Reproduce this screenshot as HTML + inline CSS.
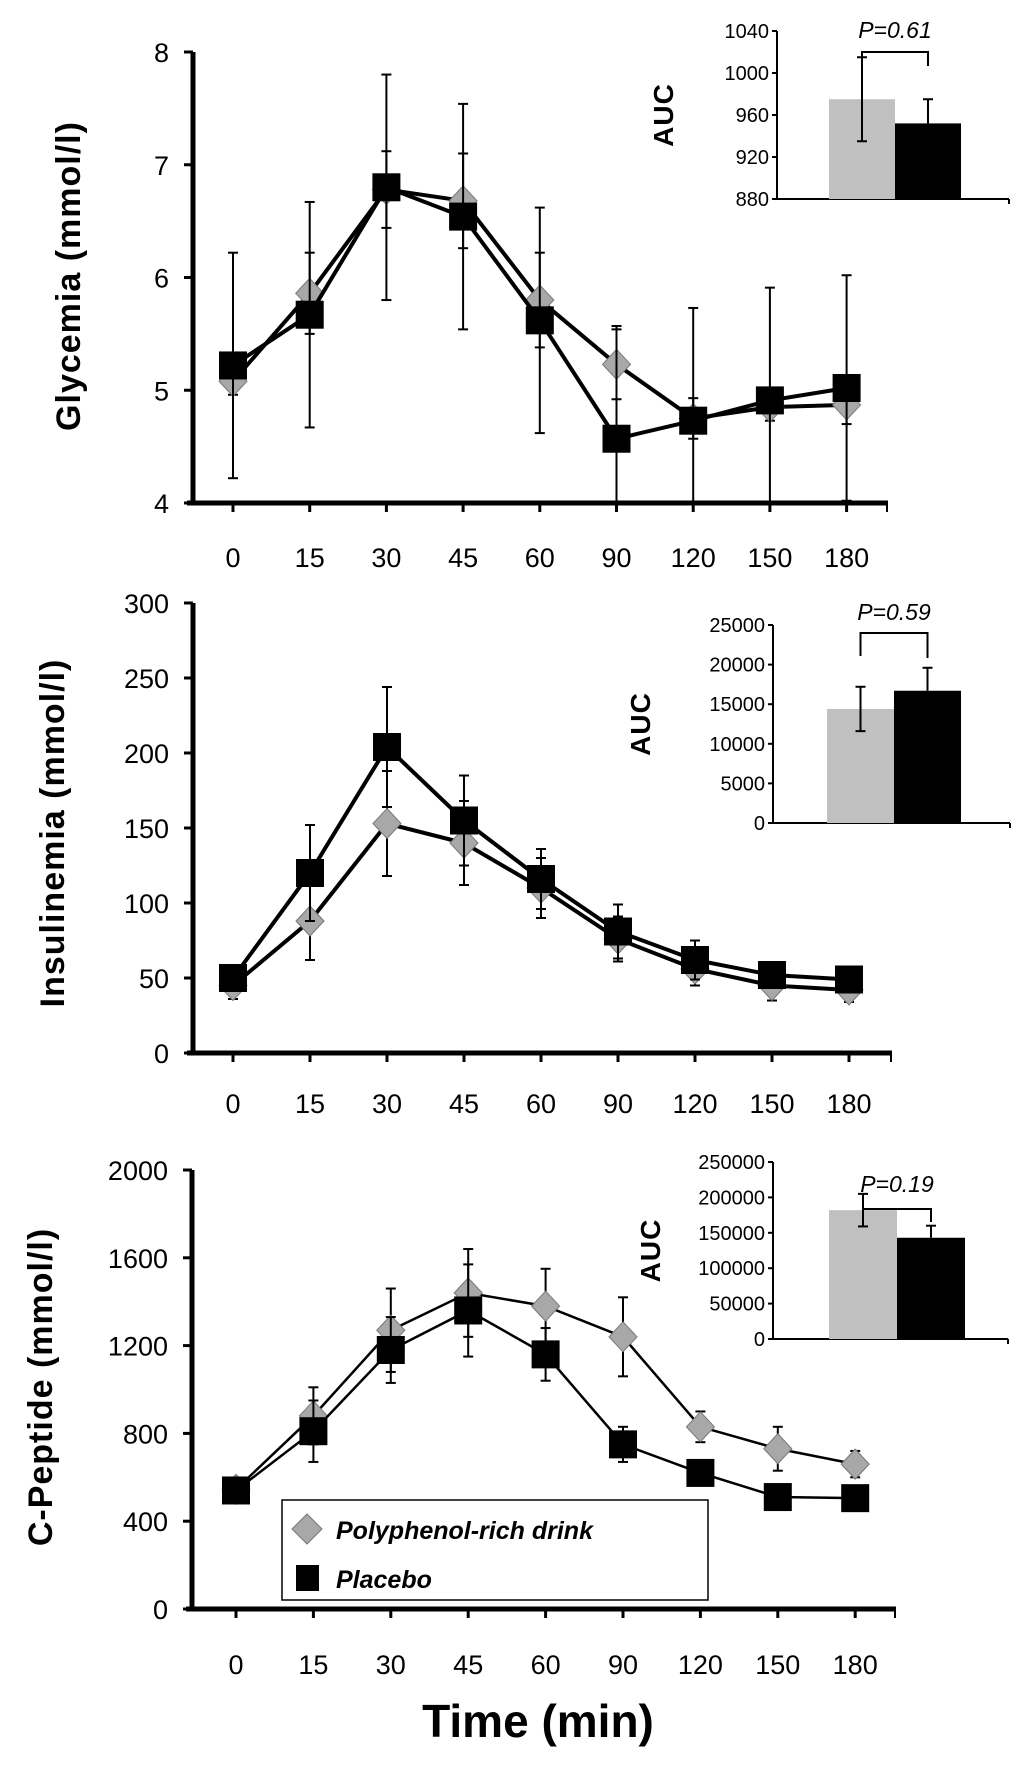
<!DOCTYPE html>
<html><head><meta charset="utf-8"><style>
html,body{margin:0;padding:0;background:#fff;}
svg{display:block;}
text{font-family:"Liberation Sans Narrow","Liberation Sans",sans-serif;fill:#000;}
.tk{font-size:27px;}
.itk{font-size:20px;}
.yt{font-family:"Liberation Sans",sans-serif;font-weight:bold;font-size:34px;letter-spacing:1px;}
</style></head><body>
<svg id="chart" width="1024" height="1767" viewBox="0 0 1024 1767"></svg>
<script>
const timeLabels=["0","15","30","45","60","90","120","150","180"];
const glyPoly=[5.08,5.86,6.78,6.68,5.8,5.23,4.75,4.85,4.87];
const glyPolyErr=[0.12,0.36,0.34,0.42,0.42,0.31,0.18,0.12,0.17];
const glyPlac=[5.22,5.67,6.8,6.54,5.62,4.57,4.73,4.91,5.02];
const glyPlacErr=[1.0,1.0,1.0,1.0,1.0,1.0,1.0,1.0,1.0];
const insPoly=[45,88,153,140,110,76,56,45,42];
const insPolyErr=[9,26,35,28,20,15,11,10,8];
const insPlac=[50,120,204,155,116,81,62,52,49];
const insPlacErr=[8,32,40,30,20,18,13,8,6];
const cpPoly=[545,880,1270,1440,1380,1240,830,730,660];
const cpPolyErr=[40,130,190,200,170,180,70,100,60];
const cpPlac=[540,810,1180,1360,1160,750,620,510,505];
const cpPlacErr=[40,140,150,210,120,80,40,45,45];
const aucGly=[975,952];const aucGlyErr=[40,23];
const aucIns=[14400,16700];const aucInsErr=[2800,2900];
const aucCp=[182000,143000];const aucCpErr=[23000,17000];
const glyTicks=[4,5,6,7,8];
const insTicks=[0,50,100,150,200,250,300];
const cpTicks=[0,400,800,1200,1600,2000];
const aucGlyTicks=[880,920,960,1000,1040];
const aucInsTicks=[0,5000,10000,15000,20000,25000];
const aucCpTicks=[0,50000,100000,150000,200000,250000];

const NS="http://www.w3.org/2000/svg";
const svg=document.getElementById('chart');
function mk(tag,attrs,parent,txt){const e=document.createElementNS(NS,tag);for(const k in attrs)e.setAttribute(k,attrs[k]);if(txt!==undefined)e.textContent=txt;(parent||svg).appendChild(e);return e;}

function panel(o){
  const g=mk('g',{});
  
  
  const ys=v=>o.y0+(v-o.ticks[0])/(o.ticks[o.ticks.length-1]-o.ticks[0])*(o.y1-o.y0);
  const xs=i=>o.xStart+i*o.xStep;
  const ya=mk('line',{x1:o.ax,y1:o.y1,x2:o.ax,y2:o.y0+2,stroke:'#000','stroke-width':5},g);
  
  const xa=mk('line',{x1:o.ax-6,y1:o.y0,x2:o.axEnd,y2:o.y0,stroke:'#000','stroke-width':5},g);
  
  mk('line',{x1:o.axEnd-1,y1:o.y0,x2:o.axEnd-1,y2:o.y0+9,stroke:'#000','stroke-width':2},g);
  o.ticks.forEach(t=>{const y=ys(t);
    mk('line',{x1:o.ax-9,y1:y,x2:o.ax,y2:y,stroke:'#000','stroke-width':3},g);
    const tl=mk('text',{x:o.ax-24,y:y+10,'text-anchor':'end',class:'tk'},g,String(t));
    
  });
  timeLabels.forEach((l,i)=>{const x=xs(i);
    mk('line',{x1:x,y1:o.y0,x2:x,y2:o.y0+9,stroke:'#000','stroke-width':3},g);
    const tl=mk('text',{x:x,y:o.labY,'text-anchor':'middle',class:'tk'},g,l);
    
  });
  const t=mk('text',{x:o.titleX,y:o.titleY,'text-anchor':'middle',class:'yt',transform:`rotate(-90 ${o.titleX} ${o.titleY})`},g,o.title);
  
  const clipY=o.y0;
  function series(vals,errs,kind){
    const sg=mk('g',{},g);
    
    
    vals.forEach((v,i)=>{const x=xs(i);const yt=ys(v+errs[i]);const yb=Math.min(ys(v-errs[i]),clipY);
      mk('line',{x1:x,y1:yt,x2:x,y2:yb,stroke:'#000','stroke-width':2},sg);
      mk('line',{x1:x-5,y1:yt,x2:x+5,y2:yt,stroke:'#000','stroke-width':2},sg);
      if(ys(v-errs[i])<clipY)mk('line',{x1:x-5,y1:yb,x2:x+5,y2:yb,stroke:'#000','stroke-width':2},sg);
    });
    mk('polyline',{points:vals.map((v,i)=>xs(i)+','+ys(v)).join(' '),fill:'none',stroke:'#000','stroke-width':o.lw},sg);
    return sg;
  }
  function markers(sg,vals,kind){
    vals.forEach((v,i)=>{const x=xs(i),y=ys(v);let m;
      if(kind==='sq'){m=mk('rect',{x:x-14,y:y-14,width:28,height:28,fill:'#000'},sg);}
      else{m=mk('polygon',{points:`${x},${y-15} ${x+14},${y} ${x},${y+15} ${x-14},${y}`,fill:'#a8a8a8',stroke:'#777','stroke-width':1},sg);}
      
      
    });
  }
  const s1=series(o.poly,o.polyErr,'dm');const s2=series(o.plac,o.placErr,'sq');
  markers(s1,o.poly,'dm');markers(s2,o.plac,'sq');
  const I=o.inset;const ig=mk('g',{},g);
  
  const iy=v=>I.y0+(v-I.ticks[0])/(I.ticks[I.ticks.length-1]-I.ticks[0])*(I.y1-I.y0);
  mk('line',{x1:I.ax,y1:I.y1,x2:I.ax,y2:I.y0,stroke:'#000','stroke-width':2},ig);
  mk('line',{x1:I.ax,y1:I.y0,x2:I.axEnd,y2:I.y0,stroke:'#000','stroke-width':2},ig);
  mk('line',{x1:I.axEnd,y1:I.y0,x2:I.axEnd,y2:I.y0+5,stroke:'#000','stroke-width':2},ig);
  I.ticks.forEach(tv=>{const y=iy(tv);
    mk('line',{x1:I.ax-5,y1:y,x2:I.ax,y2:y,stroke:'#000','stroke-width':2},ig);
    const tl=mk('text',{x:I.ax-8,y:y+7,'text-anchor':'end',class:'itk'},ig,String(tv));
    
  });
  const my=(I.y0+I.y1)/2;
  const at=mk('text',{x:I.titleX,y:my,'text-anchor':'middle',class:'yt',style:'font-size:28px',transform:`rotate(-90 ${I.titleX} ${my})`},ig,'AUC');
  
  const cols=['#c0c0c0','#000'];const centers=[];
  I.vals.forEach((v,i)=>{const x=I.barX+i*I.barW;const y=iy(v);
    const b=mk('rect',{x:x,y:y,width:I.barW,height:I.y0-y,fill:cols[i]},ig);
    
    const cx=x+I.barW/2;centers.push(cx);const ye=iy(v+I.errs[i]);
    mk('line',{x1:cx,y1:ye,x2:cx,y2:I.fullErr[i]?iy(v-I.errs[i]):y,stroke:'#000','stroke-width':2},ig);
    mk('line',{x1:cx-5,y1:ye,x2:cx+5,y2:ye,stroke:'#000','stroke-width':2},ig);
    if(I.fullErr[i]){const yl=iy(v-I.errs[i]);mk('line',{x1:cx-5,y1:yl,x2:cx+5,y2:yl,stroke:'#000','stroke-width':2},ig);}
  });
  mk('polyline',{points:`${centers[0]},${I.brL} ${centers[0]},${I.brY} ${centers[1]},${I.brY} ${centers[1]},${I.brR}`,fill:'none',stroke:'#000','stroke-width':2},ig);
  const pt=mk('text',{x:(centers[0]+centers[1])/2,y:I.pY,'text-anchor':'middle',style:'font-size:23px;font-style:italic'},ig,I.p);
  
}

panel({name:'glycemia-panel',title:'Glycemia (mmol/l)',titleX:80,titleY:276,ticks:glyTicks,y0:503,y1:52,ax:193,axEnd:888,xStart:233,xStep:76.7,labY:567,lw:4,
  poly:glyPoly,polyErr:glyPolyErr,plac:glyPlac,placErr:glyPlacErr,
  inset:{ticks:aucGlyTicks,y0:199,y1:31,ax:777,axEnd:1009,titleX:673,barX:829,barW:66,vals:aucGly,errs:aucGlyErr,fullErr:[true,false],brY:52,brL:62,brR:66,pY:38,p:'P=0.61'}});
panel({name:'insulinemia-panel',title:'Insulinemia (mmol/l)',titleX:64,titleY:833,ticks:insTicks,y0:1053,y1:603,ax:193,axEnd:892,xStart:233,xStep:77,labY:1113,lw:4,
  poly:insPoly,polyErr:insPolyErr,plac:insPlac,placErr:insPlacErr,
  inset:{ticks:aucInsTicks,y0:823,y1:625,ax:773,axEnd:1010,titleX:650,barX:827,barW:67,vals:aucIns,errs:aucInsErr,fullErr:[true,false],brY:633,brL:656,brR:658,pY:620,p:'P=0.59'}});
panel({name:'c-peptide-panel',title:'C-Peptide (mmol/l)',titleX:52,titleY:1387,ticks:cpTicks,y0:1609,y1:1170,ax:192,axEnd:896,xStart:236,xStep:77.4,labY:1674,lw:2.5,
  poly:cpPoly,polyErr:cpPolyErr,plac:cpPlac,placErr:cpPlacErr,
  inset:{ticks:aucCpTicks,y0:1339,y1:1162,ax:773,axEnd:1008,titleX:660,barX:829,barW:68,vals:aucCp,errs:aucCpErr,fullErr:[true,false],brY:1209,brL:1209,brR:1222,pY:1192,p:'P=0.19'}});

const lg=mk('g',{});

mk('rect',{x:282,y:1500,width:426,height:100,fill:'#fff',stroke:'#000','stroke-width':1.5},lg);
mk('polygon',{points:'307,1514 322,1529 307,1544 292,1529',fill:'#a8a8a8',stroke:'#777','stroke-width':1},lg);
const l1=mk('text',{x:336,y:1539,style:'font-family:"Liberation Sans",sans-serif;font-size:25px;font-style:italic;font-weight:bold'},lg,'Polyphenol-rich drink');

mk('rect',{x:296,y:1565,width:23,height:26,fill:'#000'},lg);
const l2=mk('text',{x:336,y:1588,style:'font-family:"Liberation Sans",sans-serif;font-size:25px;font-style:italic;font-weight:bold'},lg,'Placebo');

const xt=mk('text',{x:538,y:1737,'text-anchor':'middle',style:'font-family:"Liberation Sans Narrow","Liberation Sans",sans-serif;font-size:46px;font-weight:bold'},svg,'Time (min)');

</script>
</body></html>
